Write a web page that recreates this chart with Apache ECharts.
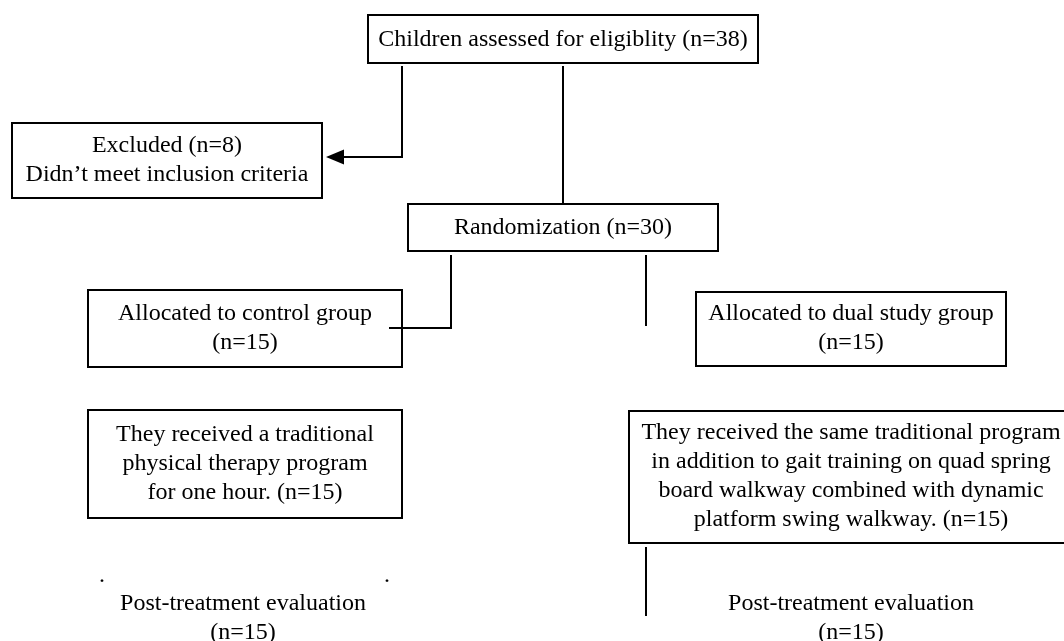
<!DOCTYPE html>
<html>
<head>
<meta charset="utf-8">
<script src="https://cdn.jsdelivr.net/npm/echarts@6/dist/echarts.min.js"></script>
<style>html,body{margin:0;padding:0;background:#fff;}#c{width:1064px;height:641px;}</style>
</head>
<body>
<div id="c"></div>
<script>
// ---- content ----
const boxTexts = [
  'Children assessed for eligiblity (n=38)',
  'Excluded (n=8)\nDidn\u2019t meet inclusion criteria',
  'Randomization (n=30)',
  'Allocated to control group\n(n=15)',
  'Allocated to dual study group\n(n=15)',
  'They received a traditional\nphysical therapy program\nfor one hour. (n=15)',
  'They received the same traditional program\nin addition to gait training on quad spring\nboard walkway combined with dynamic\nplatform swing walkway. (n=15)'
];
const freeTexts = [
  'Post-treatment evaluation\n(n=15)',
  'Post-treatment evaluation\n(n=15)',
  '.',
  '.'
];

// ---- layout (axis units: x 0..1064, y 0..641 top-down) ----
// [x0, y0, x1, y1, textX, textY]
const boxLayout = [
  [368, 15, 758, 63, 563, 40],
  [12, 123, 322, 198, 167, 160],
  [408, 204, 718, 251, 563, 228],
  [88, 290, 402, 367, 245, 328],
  [696, 292, 1006, 366, 851, 328],
  [88, 410, 402, 518, 245, 464],
  [629, 411, 1075, 543, 851, 476]
];
// [x, y, lineHeight]
const freeLayout = [
  [243, 618, 29],
  [851, 618, 29],
  [102, 576, 29],
  [387, 576, 29]
];
// polylines; arrow = arrowhead at end
const connectors = [
  { pts: [[402, 66], [402, 157], [326, 157]], arrow: true },
  { pts: [[563, 66], [563, 203]], arrow: false },
  { pts: [[451, 255], [451, 328], [389, 328]], arrow: false },
  { pts: [[646, 255], [646, 326]], arrow: false },
  { pts: [[646, 547], [646, 616]], arrow: false }
];

const FONT = 'Liberation Serif, Times New Roman, serif';
const chart = echarts.init(document.getElementById('c'), null, { renderer: 'canvas' });

chart.setOption({
  backgroundColor: '#ffffff',
  animation: false,
  grid: { left: 0, right: 0, top: 0, bottom: 0 },
  xAxis: { type: 'value', min: 0, max: 1064, show: false },
  yAxis: { type: 'value', min: 0, max: 641, inverse: true, show: false },
  series: [
    {
      type: 'custom',
      coordinateSystem: 'cartesian2d',
      clip: false,
      data: boxLayout,
      renderItem: function (params, api) {
        const i = params.dataIndex;
        const p0 = api.coord([api.value(0), api.value(1)]);
        const p1 = api.coord([api.value(2), api.value(3)]);
        const tc = api.coord([api.value(4), api.value(5)]);
        return {
          type: 'group',
          children: [
            {
              type: 'rect',
              shape: { x: p0[0], y: p0[1], width: p1[0] - p0[0], height: p1[1] - p0[1] },
              style: { fill: '#fff', stroke: '#000', lineWidth: 2 }
            },
            {
              type: 'text',
              style: {
                text: boxTexts[i], x: tc[0], y: tc[1],
                align: 'center', verticalAlign: 'middle',
                fontFamily: FONT, fontSize: 24, lineHeight: 29, fill: '#000'
              }
            }
          ]
        };
      },
      z: 2
    },
    {
      type: 'custom',
      coordinateSystem: 'cartesian2d',
      clip: false,
      data: connectors.map((c, i) => [c.pts[0][0], c.pts[0][1], i]),
      renderItem: function (params, api) {
        const c = connectors[params.dataIndex];
        const px = c.pts.map(p => api.coord(p));
        const children = [];
        const linePts = px.slice();
        if (c.arrow) {
          const n = px.length;
          const tip = px[n - 1], prev = px[n - 2];
          const dx = tip[0] - prev[0], dy = tip[1] - prev[1];
          const len = Math.sqrt(dx * dx + dy * dy);
          const ux = dx / len, uy = dy / len;
          const L = 18, W = 7.5;
          const base = [tip[0] - ux * L, tip[1] - uy * L];
          linePts[n - 1] = base;
          children.push({
            type: 'polygon',
            shape: { points: [tip, [base[0] - uy * W, base[1] + ux * W], [base[0] + uy * W, base[1] - ux * W]] },
            style: { fill: '#000' }
          });
        }
        children.unshift({
          type: 'polyline',
          shape: { points: linePts },
          style: { stroke: '#000', lineWidth: 2, fill: null, lineJoin: 'miter' }
        });
        return { type: 'group', children: children };
      },
      z: 3
    },
    {
      type: 'custom',
      coordinateSystem: 'cartesian2d',
      clip: false,
      data: freeLayout,
      renderItem: function (params, api) {
        const i = params.dataIndex;
        const tc = api.coord([api.value(0), api.value(1)]);
        return {
          type: 'text',
          style: {
            text: freeTexts[i], x: tc[0], y: tc[1],
            align: 'center', verticalAlign: 'middle',
            fontFamily: FONT, fontSize: 24, lineHeight: api.value(2), fill: '#000'
          }
        };
      },
      z: 3
    }
  ]
});
</script>
</body>
</html>
